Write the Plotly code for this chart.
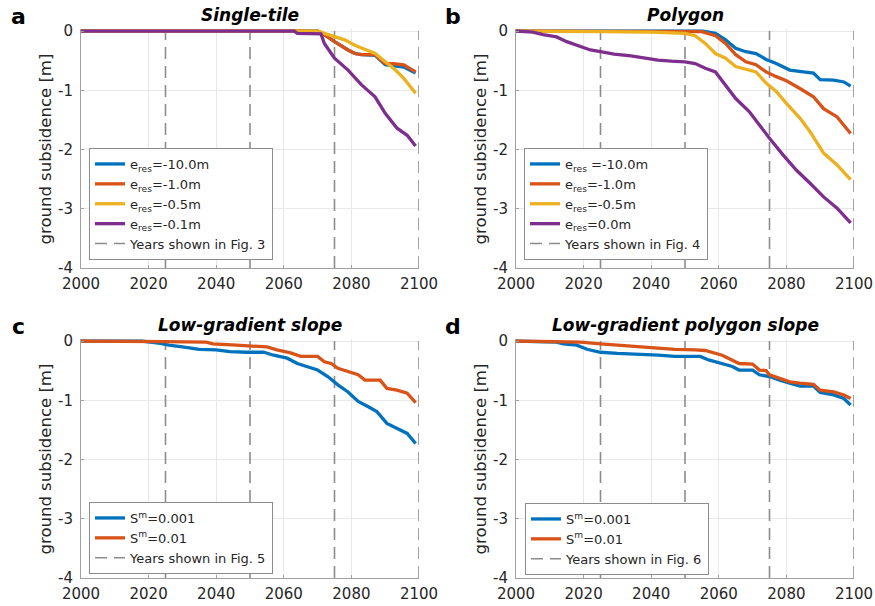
import plotly.graph_objects as go

# ---------------- data ----------------
# Panel a: Single-tile
a_blue_years = [2000, 2064, 2070, 2073, 2075, 2079, 2081, 2083, 2087, 2090, 2092.5, 2095.5, 2099]
a_blue_vals = [0, 0, 0, -0.1, -0.18, -0.32, -0.38, -0.4, -0.41, -0.57, -0.59, -0.61, -0.71]
a_red_years = [2000, 2064, 2070, 2073, 2075, 2079, 2081, 2083, 2087, 2090, 2092.5, 2095.5, 2099]
a_red_vals = [0, 0, 0, -0.1, -0.18, -0.32, -0.38, -0.4, -0.4, -0.55, -0.55, -0.57, -0.69]
a_yel_years = [2000, 2064, 2070, 2072, 2075, 2078, 2081, 2083, 2087, 2090, 2092.5, 2095.5, 2099]
a_yel_vals = [0, 0, 0, -0.04, -0.1, -0.15, -0.24, -0.29, -0.38, -0.52, -0.63, -0.8, -1.05]
a_pur_years = [2000, 2063, 2064, 2071, 2072, 2075, 2079, 2083, 2087, 2090, 2093.5, 2096.5, 2099]
a_pur_vals = [0, 0, -0.04, -0.05, -0.21, -0.46, -0.66, -0.91, -1.11, -1.39, -1.64, -1.76, -1.94]

# Panel b: Polygon
b_blue_years = [2000, 2055, 2059, 2062, 2065, 2068, 2071, 2074, 2077, 2081, 2085, 2088, 2090, 2094, 2097, 2099]
b_blue_vals = [0, 0, -0.04, -0.15, -0.29, -0.35, -0.38, -0.48, -0.55, -0.66, -0.69, -0.71, -0.82, -0.83, -0.86, -0.93]
b_red_years = [2000, 2030, 2055, 2059, 2062, 2065, 2068, 2071, 2074, 2077, 2080, 2084, 2088, 2091, 2095, 2099]
b_red_vals = [0, -0.01, -0.01, -0.08, -0.21, -0.4, -0.52, -0.57, -0.69, -0.77, -0.84, -0.97, -1.11, -1.31, -1.45, -1.73]
b_yel_years = [2000, 2020, 2025, 2040, 2050, 2053, 2056, 2059, 2062, 2065, 2068, 2071, 2074, 2077, 2080, 2084, 2087, 2091, 2095, 2099]
b_yel_vals = [0, 0, -0.01, -0.02, -0.04, -0.08, -0.21, -0.38, -0.46, -0.6, -0.64, -0.69, -0.88, -1.02, -1.22, -1.47, -1.7, -2.06, -2.26, -2.51]
b_pur_years = [2000, 2005, 2008, 2012, 2015, 2019, 2022, 2025, 2029, 2034, 2038, 2042, 2046, 2050, 2053, 2056, 2059,
               2062, 2065, 2069, 2072, 2075, 2079, 2083, 2087, 2091, 2095, 2099]
b_pur_vals = [0, -0.02, -0.06, -0.1, -0.18, -0.26, -0.32, -0.35, -0.39, -0.42, -0.46, -0.49, -0.51, -0.52, -0.55, -0.63, -0.69,
              -0.91, -1.14, -1.36, -1.59, -1.81, -2.09, -2.35, -2.57, -2.8, -2.99, -3.24]

# Panel c: Low-gradient slope
c_blue_years = [2000, 2018, 2023.5, 2026, 2030, 2035, 2040, 2044, 2049, 2054, 2057, 2061, 2064, 2067, 2070, 2073, 2076,
                2079, 2082, 2085, 2087.5, 2090.5, 2093.5, 2096.5, 2099]
c_blue_vals = [0, 0, -0.04, -0.07, -0.1, -0.14, -0.15, -0.18, -0.19, -0.19, -0.24, -0.29, -0.38, -0.43, -0.49, -0.6, -0.74,
               -0.86, -1.02, -1.11, -1.19, -1.39, -1.47, -1.56, -1.73]
c_red_years = [2000, 2023, 2024.5, 2037, 2039, 2046, 2049, 2055, 2058, 2062, 2065, 2070, 2072, 2074, 2076, 2079, 2082,
               2084, 2088.5, 2090.5, 2093.5, 2096.5, 2099]
c_red_vals = [0, 0, -0.01, -0.02, -0.05, -0.07, -0.08, -0.1, -0.15, -0.2, -0.26, -0.26, -0.35, -0.38, -0.46, -0.52, -0.57,
              -0.66, -0.66, -0.8, -0.83, -0.88, -1.04]

# Panel d: Low-gradient polygon slope
d_blue_years = [2000, 2007, 2012, 2014, 2018, 2021, 2025, 2030, 2037, 2042, 2047, 2054.5, 2057, 2061, 2064, 2066, 2070,
                2072, 2075, 2078, 2081, 2084, 2088, 2090, 2094, 2097, 2099]
d_blue_vals = [0, -0.01, -0.02, -0.05, -0.07, -0.14, -0.19, -0.21, -0.22, -0.24, -0.26, -0.26, -0.32, -0.38, -0.43, -0.49,
               -0.49, -0.57, -0.6, -0.66, -0.71, -0.76, -0.76, -0.87, -0.91, -0.97, -1.08]
d_red_years = [2000, 2012, 2019, 2025, 2032, 2040, 2047, 2053, 2056, 2061, 2064, 2066, 2070, 2072, 2074, 2075, 2078, 2081,
               2084, 2088, 2090, 2094, 2097, 2099]
d_red_vals = [0, -0.01, -0.02, -0.05, -0.08, -0.11, -0.14, -0.15, -0.16, -0.24, -0.32, -0.38, -0.39, -0.49, -0.5, -0.57,
              -0.63, -0.69, -0.71, -0.73, -0.83, -0.86, -0.91, -0.97]

shown_years = [2025, 2050, 2075, 2100]

x_ticks = [2000, 2020, 2040, 2060, 2080, 2100]
x_tick_labels = ["2000", "2020", "2040", "2060", "2080", "2100"]
y_ticks = [0, -1, -2, -3, -4]
y_tick_labels = ["0", "-1", "-2", "-3", "-4"]

panel_titles = ["Single-tile", "Polygon", "Low-gradient slope", "Low-gradient polygon slope"]
panel_letters = ["a", "b", "c", "d"]
fig_refs = ["Fig. 3", "Fig. 4", "Fig. 5", "Fig. 6"]

names_a = ["e<sub>res</sub>=-10.0m", "e<sub>res</sub>=-1.0m", "e<sub>res</sub>=-0.5m", "e<sub>res</sub>=-0.1m"]
names_b = ["e<sub>res</sub> =-10.0m", "e<sub>res</sub>=-1.0m", "e<sub>res</sub>=-0.5m", "e<sub>res</sub>=0.0m"]
names_cd = ["S<sup>m</sup>=0.001", "S<sup>m</sup>=0.01"]

# ---------------- styling ----------------
COLORS = ["#0072BD", "#D95319", "#EDB120", "#7E2F8E"]
OFF = 0  # page body margin removed via post_script
W, H = 875 - OFF, 606 - OFF
FONT = "DejaVu Sans"
TXT = "#262626"
YMIN, YMAX = -4.0, 0.03

# pixel boxes in window coords (left, right, top(for y=0), bottom(for y=-4))
px_per_m = 237 / 4.0
boxes = [(81, 419, 31, 268), (516, 854, 31, 268), (81, 419, 341, 578), (516, 854, 341, 578)]
legend_pos = [(89, 148), (524, 148), (89, 502), (525, 503)]


def fx(px):
    return (px - OFF) / W


def fy(py):
    return 1 - (py - OFF) / H


panels = [
    [(a_blue_years, a_blue_vals), (a_red_years, a_red_vals), (a_yel_years, a_yel_vals), (a_pur_years, a_pur_vals)],
    [(b_blue_years, b_blue_vals), (b_red_years, b_red_vals), (b_yel_years, b_yel_vals), (b_pur_years, b_pur_vals)],
    [(c_blue_years, c_blue_vals), (c_red_years, c_red_vals)],
    [(d_blue_years, d_blue_vals), (d_red_years, d_red_vals)],
]
panel_names = [names_a, names_b, names_cd, names_cd]

fig = go.Figure()
layout = dict(
    template="none",
    width=W, height=H, margin=dict(l=0, r=0, t=0, b=0, pad=0, autoexpand=False),
    paper_bgcolor="white", plot_bgcolor="white",
    font=dict(family=FONT, color=TXT, size=15),
    showlegend=True,
)
annotations = []

for i in range(4):
    left, right, top0, bottom = boxes[i]
    top = top0 - (YMAX - 0) * px_per_m
    suffix = "" if i == 0 else str(i + 1)
    xa = "x" + suffix
    ya = "y" + suffix
    leg = "legend" + suffix

    # vertical dashed lines (years shown)
    vx, vy = [], []
    for yr in shown_years:
        vx += [yr, yr, None]
        vy += [YMIN, 0, None]
    fig.add_trace(go.Scatter(
        x=vx, y=vy, mode="lines", xaxis=xa, yaxis=ya, legend=leg,
        line=dict(color="#8c8c8c", width=1.6, dash="12px,7px"),
        name="Years shown in " + fig_refs[i], legendrank=1000, hoverinfo="skip",
    ))
    for k, (xs, ys) in enumerate(panels[i]):
        fig.add_trace(go.Scatter(
            x=xs, y=ys, mode="lines", xaxis=xa, yaxis=ya, legend=leg,
            line=dict(color=COLORS[k], width=3.3),
            name=panel_names[i][k], legendrank=k + 1,
        ))

    axis_common = dict(
        showgrid=True, gridcolor="#e8e8e8", gridwidth=1,
        showline=True, linecolor="#a0a0a0", linewidth=1,
        ticks="inside", ticklen=3, tickcolor="#a0a0a0",
        tickfont=dict(family=FONT, size=15, color=TXT),
        zeroline=False, fixedrange=True, automargin=False,
    )
    layout["xaxis" + suffix] = dict(
        axis_common, domain=[fx(left), fx(right)], range=[2000, 2100],
        tickvals=x_ticks, ticktext=x_tick_labels, anchor=ya, ticklabelstandoff=2,
    )
    layout["yaxis" + suffix] = dict(
        axis_common, domain=[fy(bottom), fy(top)], range=[YMIN, YMAX],
        tickvals=y_ticks, ticktext=y_tick_labels, anchor=xa, ticklabelstandoff=4,
    )
    lx, ly = legend_pos[i]
    layout[leg] = dict(
        x=fx(lx), y=fy(ly), xanchor="left", yanchor="top",
        xref="paper", yref="paper",
        bgcolor="white", bordercolor="#8c8c8c", borderwidth=1,
        font=dict(family=FONT, size=13, color=TXT),
        traceorder="normal", itemwidth=30, tracegroupgap=0,
    )
    # title
    annotations.append(dict(
        x=fx((left + right) / 2), y=fy(15 if i < 2 else 325),
        xref="paper", yref="paper", xanchor="center", yanchor="middle",
        text="<b><i>" + panel_titles[i] + "</i></b>", showarrow=False,
        font=dict(family=FONT, size=17, color="black"),
    ))
    # panel letter
    annotations.append(dict(
        x=fx(left - 63), y=fy(17 if i < 2 else 326),
        xref="paper", yref="paper", xanchor="center", yanchor="middle",
        text="<b>" + panel_letters[i] + "</b>", showarrow=False,
        font=dict(family=FONT, size=22, color="black"),
    ))
    # y-axis title
    annotations.append(dict(
        x=fx(left - 36), y=fy((top0 + bottom) / 2),
        xref="paper", yref="paper", xanchor="center", yanchor="middle",
        text="ground subsidence [m]", showarrow=False, textangle=-90,
        font=dict(family=FONT, size=16.5, color=TXT),
    ))

layout["annotations"] = annotations
fig.update_layout(**layout)
fig.write_html(
    "out.html",
    config={"displayModeBar": False, "staticPlot": True},
    post_script="document.body.style.margin='0';document.body.style.overflow='hidden';",
)
